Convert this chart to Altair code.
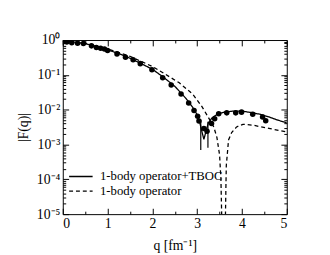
import altair as alt
import pandas as pd

FONT = "Liberation Serif"

# ---- data ----
series_names = ["1-body operator+TBOC", "1-body operator"]

q_tboc = [0.0, 0.25, 0.5, 0.75, 1.0, 1.25, 1.5, 1.75, 2.0, 2.25, 2.5, 2.75, 2.9, 3.0,
          3.05, 3.1, 3.15, 3.2, 3.25, 3.33, 3.45, 3.6, 3.8, 4.0, 4.2, 4.4, 4.6, 4.8, 5.0]
F_tboc = [0.93, 0.87, 0.79, 0.66, 0.52, 0.41, 0.30, 0.21, 0.145, 0.085, 0.047, 0.021,
          0.0117, 0.0071, 0.0048, 0.0025, 0.0014, 0.0025, 0.0042, 0.0058, 0.0074, 0.0085,
          0.0091, 0.0091, 0.0083, 0.0074, 0.0062, 0.0050, 0.0042]

q_1body = [0.0, 0.5, 1.0, 1.5, 2.0, 2.3, 2.6, 2.9, 3.1, 3.25, 3.37, 3.44, 3.5, 3.53,
           3.555, 3.625, 3.64, 3.65, 3.70, 3.77, 3.88, 4.02, 4.24, 4.6, 5.0]
F_1body = [0.95, 0.81, 0.56, 0.34, 0.174, 0.102, 0.059, 0.028, 0.0126, 0.006, 0.0032,
           0.0016, 0.0005, 0.0001, 0.000003, 0.000003, 0.00005, 0.00025, 0.00135,
           0.0022, 0.0032, 0.0038, 0.0036, 0.0029, 0.0023]

q_exp = [0.0, 0.09, 0.20, 0.33, 0.46, 0.64, 0.75, 0.845, 0.93, 1.0, 1.21, 1.40, 1.57,
         1.73, 1.99, 2.23, 2.42, 2.64, 2.81, 2.93, 3.01, 3.04, 3.15, 3.22, 3.32, 3.39,
         3.48, 3.66, 3.86, 3.99, 4.24, 4.46, 4.53]
F_exp = [0.88, 0.88, 0.84, 0.81, 0.79, 0.68, 0.61, 0.58, 0.55, 0.50, 0.40, 0.32, 0.27,
         0.21, 0.14, 0.083, 0.051, 0.028, 0.0155, 0.0095, 0.0065, 0.0047, 0.0029, 0.0024,
         0.0040, 0.0055, 0.0076, 0.0081, 0.0081, 0.0085, 0.0074, 0.0062, 0.0048]

q_err = [3.08, 3.24]
F_err_hi = [0.0050, 0.0045]
F_err_lo = [0.0007, 0.0008]

x_major = [0, 1, 2, 3, 4, 5]
x_minor = [0.5, 1.5, 2.5, 3.5, 4.5]
y_major = [1, 0.1, 0.01, 0.001, 0.0001, 0.00001]
y_major_labels = ["10⁰", "10⁻¹", "10⁻²", "10⁻³", "10⁻⁴", "10⁻⁵"]
y_minor = [k * m for m in [0.1, 0.01, 0.001, 0.0001, 0.00001] for k in range(2, 10)]

# ---- tables ----
lines_df = pd.DataFrame({
    "q": q_tboc + q_1body,
    "F": F_tboc + F_1body,
    "model": [series_names[0]] * len(q_tboc) + [series_names[1]] * len(q_1body),
})
exp_df = pd.DataFrame({"q": q_exp, "F": F_exp})
err_df = pd.DataFrame({"q": q_err, "hi": F_err_hi, "lo": F_err_lo})

y_label_expr = "''"
for v, lab in zip(reversed(y_major), reversed(y_major_labels)):
    y_label_expr = f"datum.value == {v!r} ? '{lab}' : ({y_label_expr})"

x_scale = alt.Scale(domain=[0, 5], nice=False, zero=False)
y_scale = alt.Scale(type="log", domain=[1e-5, 1], nice=False)


def tick_axis(orient, values, size):
    # ticks only, shifted inward so they point into the plot
    return alt.Axis(orient=orient, values=values, labels=False, title=None,
                    domain=False, grid=False, ticks=True, tickSize=size,
                    offset=-size, tickColor="black", tickWidth=1)


x_labels = alt.Axis(
    orient="bottom", values=x_major, title="q [fm⁻¹]", ticks=False,
    labelPadding=3, domain=False, grid=False,
    labelFont=FONT, labelFontSize=14, labelColor="black",
    titleFont=FONT, titleFontSize=14, titleFontWeight="normal", titleColor="black",
    titlePadding=8,
)
y_labels = alt.Axis(
    orient="left", values=y_major, labelExpr=y_label_expr, title="|F(q)|", ticks=False,
    labelPadding=3, domain=False, grid=False,
    labelFont=FONT, labelFontSize=14, labelColor="black",
    titleFont=FONT, titleFontSize=14, titleFontWeight="normal", titleColor="black",
    titlePadding=6,
)

lines = alt.Chart(lines_df).mark_line(color="black", strokeWidth=1.3, clip=True).encode(
    x=alt.X("q:Q", scale=x_scale, axis=x_labels),
    y=alt.Y("F:Q", scale=y_scale, axis=y_labels),
    strokeDash=alt.StrokeDash(
        "model:N",
        scale=alt.Scale(domain=series_names, range=[[1, 0], [4, 3]]),
        legend=alt.Legend(
            orient="none", legendX=12, legendY=133, title=None,
            labelFont=FONT, labelFontSize=13, labelColor="black",
            symbolType="M-3,0H3", symbolSize=64, symbolStrokeWidth=1.4,
            symbolStrokeColor="black", rowPadding=1, padding=0, labelOffset=13,
        ),
    ),
    order=alt.Order("q:Q"),
)

points = alt.Chart(exp_df).mark_circle(color="black", opacity=1, size=32, clip=True).encode(
    x=alt.X("q:Q", scale=x_scale, axis=tick_axis("bottom", x_major, 6)),
    y=alt.Y("F:Q", scale=y_scale, axis=tick_axis("left", y_major, 6)),
)

errs = alt.Chart(err_df).mark_rule(color="black", strokeWidth=1.2).encode(
    x=alt.X("q:Q", scale=x_scale, axis=tick_axis("bottom", x_minor, 3)),
    y=alt.Y("hi:Q", scale=y_scale, axis=tick_axis("left", y_minor, 3)),
    y2="lo:Q",
)

ghost1 = alt.Chart(exp_df).mark_point(opacity=0).encode(
    x=alt.X("q:Q", scale=x_scale, axis=tick_axis("top", x_major, 6)),
    y=alt.Y("F:Q", scale=y_scale, axis=tick_axis("right", y_major, 6)),
)
ghost2 = alt.Chart(exp_df).mark_point(opacity=0).encode(
    x=alt.X("q:Q", scale=x_scale, axis=tick_axis("top", x_minor, 3)),
    y=alt.Y("F:Q", scale=y_scale, axis=tick_axis("right", y_minor, 3)),
)

chart = alt.layer(lines, points, errs, ghost1, ghost2).resolve_axis(
    x="independent", y="independent"
).properties(
    width=229, height=178,
    autosize=alt.AutoSizeParams(type="none"),
    padding={"left": 56, "top": 30, "right": 36, "bottom": 38},
    background="white",
).configure(font=FONT).configure_view(stroke="black", strokeWidth=1)

chart.save("out.html", embed_options={"renderer": "svg", "actions": False})
